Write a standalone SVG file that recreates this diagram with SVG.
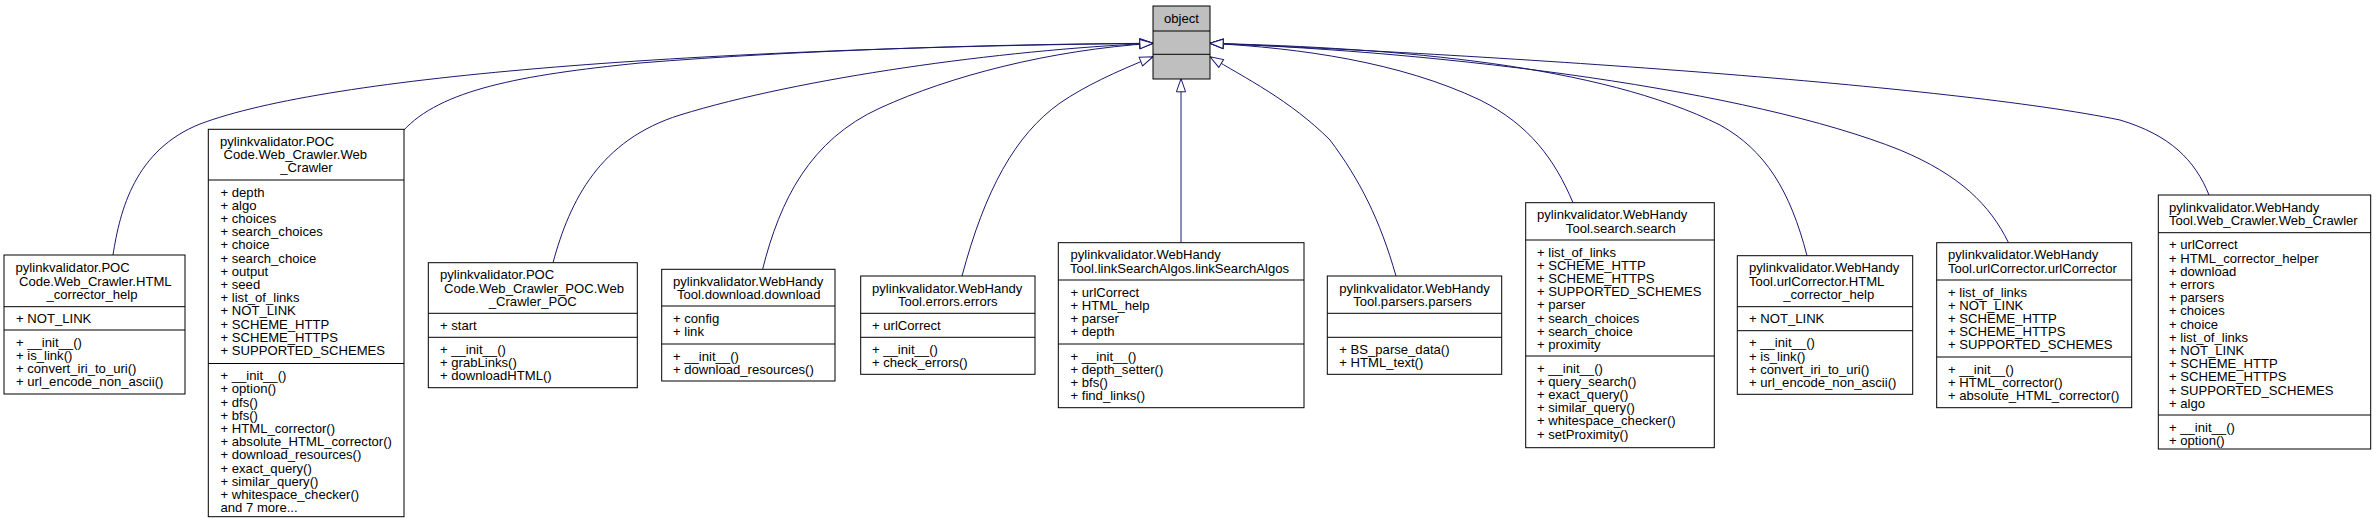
<svg xmlns="http://www.w3.org/2000/svg" width="2376" height="528" viewBox="0 0 2376 528">
<style>
.bg{fill:#ffffff}
.box{fill:#ffffff;stroke:#000000;stroke-width:1}
.obj{fill:#bfbfbf;stroke:#000000;stroke-width:1}
.div{stroke:#000000;stroke-width:1}
text{font-family:"Liberation Sans",Arial,Helvetica,sans-serif;font-size:13.1px;fill:#000000}
.c{text-anchor:middle}
.edge{fill:none;stroke:#191970;stroke-width:1;marker-end:url(#ah)}
</style>
<defs>
<marker id="ah" markerUnits="userSpaceOnUse" markerWidth="16" markerHeight="12" viewBox="-1 -6 16 12" refX="13.1" refY="0" orient="auto">
<path d="M0,-4.6 L13.1,0 L0,4.6 Z" fill="#ffffff" stroke="#191970" stroke-width="1"/>
</marker>
</defs>
<rect class="bg" x="0" y="0" width="2376" height="528"/>
<g id="connectors">
<path class="edge" d="M113,255 C120,210 135,150 200,124 C330,75 700,48 1153,43.3"/>
<path class="edge" d="M403,131 C440,90 520,75 640,63 C800,50 1000,44 1153,43.3"/>
<path class="edge" d="M553,262.7 C570,200 600,140 680,115 C800,78 1000,50 1153,43.3"/>
<path class="edge" d="M762.6,269.3 C780,200 810,140 880,108 C950,76 1050,50 1153,43.3"/>
<path class="edge" d="M962,276 C985,190 1015,135 1060,103 C1085,86 1115,72 1153,56.7"/>
<path class="edge" d="M1181,242.7 L1181,78.7"/>
<path class="edge" d="M1396,276 C1380,220 1360,180 1330,140 C1290,100 1245,78 1210,56.7"/>
<path class="edge" d="M1573,202.7 C1555,160 1530,125 1480,100 C1400,62 1300,48 1210,43.3"/>
<path class="edge" d="M1807,255.7 C1790,190 1765,150 1720,125 C1600,65 1400,48 1210,43.3"/>
<path class="edge" d="M2008.5,242.7 C1990,205 1960,175 1900,150 C1750,90 1450,52 1210,43.3"/>
<path class="edge" d="M2209,195 C2195,160 2170,135 2120,120 C1950,85 1500,55 1210,43.3"/>
</g>
<g id="node-object">
<rect class="obj" x="1153" y="6" width="57" height="73"/>
<line class="div" x1="1153" y1="31" x2="1210" y2="31"/>
<line class="div" x1="1153" y1="54.3" x2="1210" y2="54.3"/>
<text class="c" x="1181.5" y="22.6">object</text>
</g>
<g id="node-poc-html-corrector-help">
<rect class="box" x="4" y="255" width="181" height="139"/>
<line class="div" x1="4" y1="306.7" x2="185" y2="306.7"/>
<line class="div" x1="4" y1="330" x2="185" y2="330"/>
<text x="15.5" y="272.3">pylinkvalidator.POC</text>
<text x="19" y="285.5">Code.Web_Crawler.HTML</text>
<text class="c" x="92" y="298.7">_corrector_help</text>
<text x="16" y="323.3">+ NOT_LINK</text>
<text x="16" y="346.6">+ __init__()</text>
<text x="16" y="359.8">+ is_link()</text>
<text x="16" y="373">+ convert_iri_to_uri()</text>
<text x="16" y="386.2">+ url_encode_non_ascii()</text>
</g>
<g id="node-poc-web-crawler">
<rect class="box" x="208.3" y="129.3" width="195.7" height="387.4"/>
<line class="div" x1="208.3" y1="180" x2="404" y2="180"/>
<line class="div" x1="208.3" y1="363.5" x2="404" y2="363.5"/>
<text x="220" y="145.9">pylinkvalidator.POC</text>
<text x="223.5" y="159.1">Code.Web_Crawler.Web</text>
<text class="c" x="306.5" y="172.3">_Crawler</text>
<text x="220.5" y="196.6">+ depth</text>
<text x="220.5" y="209.8">+ algo</text>
<text x="220.5" y="223">+ choices</text>
<text x="220.5" y="236.2">+ search_choices</text>
<text x="220.5" y="249.4">+ choice</text>
<text x="220.5" y="262.6">+ search_choice</text>
<text x="220.5" y="275.8">+ output</text>
<text x="220.5" y="289">+ seed</text>
<text x="220.5" y="302.2">+ list_of_links</text>
<text x="220.5" y="315.4">+ NOT_LINK</text>
<text x="220.5" y="328.6">+ SCHEME_HTTP</text>
<text x="220.5" y="341.8">+ SCHEME_HTTPS</text>
<text x="220.5" y="355">+ SUPPORTED_SCHEMES</text>
<text x="220.5" y="380.1">+ __init__()</text>
<text x="220.5" y="393.3">+ option()</text>
<text x="220.5" y="406.5">+ dfs()</text>
<text x="220.5" y="419.7">+ bfs()</text>
<text x="220.5" y="432.9">+ HTML_corrector()</text>
<text x="220.5" y="446.1">+ absolute_HTML_corrector()</text>
<text x="220.5" y="459.3">+ download_resources()</text>
<text x="220.5" y="472.5">+ exact_query()</text>
<text x="220.5" y="485.7">+ similar_query()</text>
<text x="220.5" y="498.9">+ whitespace_checker()</text>
<text x="220.5" y="512.1">and 7 more...</text>
</g>
<g id="node-poc-web-crawler-poc">
<rect class="box" x="428.3" y="262.7" width="209" height="125"/>
<line class="div" x1="428.3" y1="313.3" x2="637.3" y2="313.3"/>
<line class="div" x1="428.3" y1="337.3" x2="637.3" y2="337.3"/>
<text x="440" y="279.3">pylinkvalidator.POC</text>
<text x="444" y="292.5">Code.Web_Crawler_POC.Web</text>
<text class="c" x="532.8" y="305.7">_Crawler_POC</text>
<text x="440" y="329.9">+ start</text>
<text x="440" y="353.9">+ __init__()</text>
<text x="440" y="367.1">+ grabLinks()</text>
<text x="440" y="380.3">+ downloadHTML()</text>
</g>
<g id="node-download">
<rect class="box" x="661.7" y="269.3" width="173.3" height="111.7"/>
<line class="div" x1="661.7" y1="306" x2="835" y2="306"/>
<line class="div" x1="661.7" y1="344" x2="835" y2="344"/>
<text x="673" y="285.9">pylinkvalidator.WebHandy</text>
<text x="677" y="299.1">Tool.download.download</text>
<text x="673" y="322.6">+ config</text>
<text x="673" y="335.8">+ link</text>
<text x="673" y="360.6">+ __init__()</text>
<text x="673" y="373.8">+ download_resources()</text>
</g>
<g id="node-errors">
<rect class="box" x="860.7" y="276" width="174.3" height="98.3"/>
<line class="div" x1="860.7" y1="313.3" x2="1035" y2="313.3"/>
<line class="div" x1="860.7" y1="337.3" x2="1035" y2="337.3"/>
<text x="872" y="292.6">pylinkvalidator.WebHandy</text>
<text class="c" x="947.8" y="305.8">Tool.errors.errors</text>
<text x="872" y="329.9">+ urlCorrect</text>
<text x="872" y="353.9">+ __init__()</text>
<text x="872" y="367.1">+ check_errors()</text>
</g>
<g id="node-linksearchalgos">
<rect class="box" x="1058.3" y="242.7" width="245.7" height="165"/>
<line class="div" x1="1058.3" y1="280" x2="1304" y2="280"/>
<line class="div" x1="1058.3" y1="344" x2="1304" y2="344"/>
<text x="1070.5" y="259.3">pylinkvalidator.WebHandy</text>
<text x="1070" y="272.5">Tool.linkSearchAlgos.linkSearchAlgos</text>
<text x="1070.5" y="296.6">+ urlCorrect</text>
<text x="1070.5" y="309.8">+ HTML_help</text>
<text x="1070.5" y="323">+ parser</text>
<text x="1070.5" y="336.2">+ depth</text>
<text x="1070.5" y="360.6">+ __init__()</text>
<text x="1070.5" y="373.8">+ depth_setter()</text>
<text x="1070.5" y="387">+ bfs()</text>
<text x="1070.5" y="400.2">+ find_links()</text>
</g>
<g id="node-parsers">
<rect class="box" x="1327.3" y="276" width="174.4" height="98.3"/>
<line class="div" x1="1327.3" y1="313.3" x2="1501.7" y2="313.3"/>
<line class="div" x1="1327.3" y1="337.3" x2="1501.7" y2="337.3"/>
<text x="1339.3" y="292.6">pylinkvalidator.WebHandy</text>
<text class="c" x="1412.5" y="305.8">Tool.parsers.parsers</text>
<text x="1339.3" y="353.9">+ BS_parse_data()</text>
<text x="1339.3" y="367.1">+ HTML_text()</text>
</g>
<g id="node-search">
<rect class="box" x="1525.7" y="202.7" width="188.6" height="245"/>
<line class="div" x1="1525.7" y1="240" x2="1714.3" y2="240"/>
<line class="div" x1="1525.7" y1="356" x2="1714.3" y2="356"/>
<text x="1537" y="219.3">pylinkvalidator.WebHandy</text>
<text class="c" x="1620.8" y="232.5">Tool.search.search</text>
<text x="1537" y="256.6">+ list_of_links</text>
<text x="1537" y="269.8">+ SCHEME_HTTP</text>
<text x="1537" y="283">+ SCHEME_HTTPS</text>
<text x="1537" y="296.2">+ SUPPORTED_SCHEMES</text>
<text x="1537" y="309.4">+ parser</text>
<text x="1537" y="322.6">+ search_choices</text>
<text x="1537" y="335.8">+ search_choice</text>
<text x="1537" y="349">+ proximity</text>
<text x="1537" y="372.6">+ __init__()</text>
<text x="1537" y="385.8">+ query_search()</text>
<text x="1537" y="399">+ exact_query()</text>
<text x="1537" y="412.2">+ similar_query()</text>
<text x="1537" y="425.4">+ whitespace_checker()</text>
<text x="1537" y="438.6">+ setProximity()</text>
</g>
<g id="node-urlcorrector-html-corrector-help">
<rect class="box" x="1737.3" y="255.7" width="175.4" height="138.6"/>
<line class="div" x1="1737.3" y1="306.7" x2="1912.7" y2="306.7"/>
<line class="div" x1="1737.3" y1="330.7" x2="1912.7" y2="330.7"/>
<text x="1749" y="272.3">pylinkvalidator.WebHandy</text>
<text x="1749" y="285.5">Tool.urlCorrector.HTML</text>
<text class="c" x="1828.7" y="298.7">_corrector_help</text>
<text x="1749" y="323.3">+ NOT_LINK</text>
<text x="1749" y="347.3">+ __init__()</text>
<text x="1749" y="360.5">+ is_link()</text>
<text x="1749" y="373.7">+ convert_iri_to_uri()</text>
<text x="1749" y="386.9">+ url_encode_non_ascii()</text>
</g>
<g id="node-urlcorrector">
<rect class="box" x="1936.7" y="242.7" width="195" height="165"/>
<line class="div" x1="1936.7" y1="280" x2="2131.7" y2="280"/>
<line class="div" x1="1936.7" y1="357" x2="2131.7" y2="357"/>
<text x="1948" y="259.3">pylinkvalidator.WebHandy</text>
<text x="1948" y="272.5">Tool.urlCorrector.urlCorrector</text>
<text x="1948" y="296.6">+ list_of_links</text>
<text x="1948" y="309.8">+ NOT_LINK</text>
<text x="1948" y="323">+ SCHEME_HTTP</text>
<text x="1948" y="336.2">+ SCHEME_HTTPS</text>
<text x="1948" y="349.4">+ SUPPORTED_SCHEMES</text>
<text x="1948" y="373.6">+ __init__()</text>
<text x="1948" y="386.8">+ HTML_corrector()</text>
<text x="1948" y="400">+ absolute_HTML_corrector()</text>
</g>
<g id="node-webhandy-web-crawler">
<rect class="box" x="2158.3" y="195" width="212.4" height="254"/>
<line class="div" x1="2158.3" y1="232.7" x2="2370.7" y2="232.7"/>
<line class="div" x1="2158.3" y1="415" x2="2370.7" y2="415"/>
<text x="2169" y="211.6">pylinkvalidator.WebHandy</text>
<text x="2169" y="224.8">Tool.Web_Crawler.Web_Crawler</text>
<text x="2169" y="249.3">+ urlCorrect</text>
<text x="2169" y="262.5">+ HTML_corrector_helper</text>
<text x="2169" y="275.7">+ download</text>
<text x="2169" y="288.9">+ errors</text>
<text x="2169" y="302.1">+ parsers</text>
<text x="2169" y="315.3">+ choices</text>
<text x="2169" y="328.5">+ choice</text>
<text x="2169" y="341.7">+ list_of_links</text>
<text x="2169" y="354.9">+ NOT_LINK</text>
<text x="2169" y="368.1">+ SCHEME_HTTP</text>
<text x="2169" y="381.3">+ SCHEME_HTTPS</text>
<text x="2169" y="394.5">+ SUPPORTED_SCHEMES</text>
<text x="2169" y="407.7">+ algo</text>
<text x="2169" y="431.6">+ __init__()</text>
<text x="2169" y="444.8">+ option()</text>
</g>
</svg>
